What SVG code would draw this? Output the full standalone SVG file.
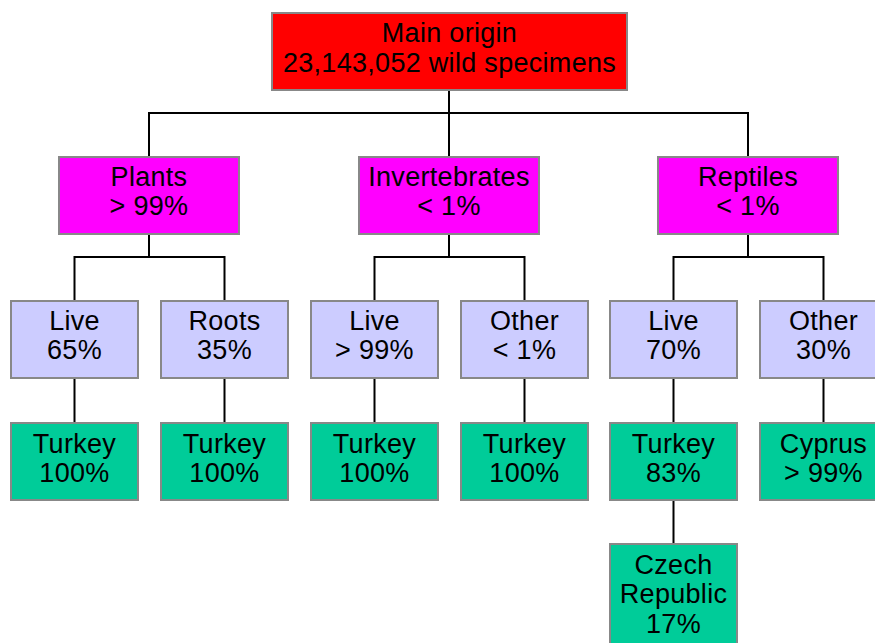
<svg xmlns="http://www.w3.org/2000/svg" width="875" height="643" viewBox="0 0 875 643">
<style>
.box{stroke:#888888;stroke-width:2}
.r{fill:#FF0000}
.m{fill:#FF00FF}
.l{fill:#CCCCFF}
.g{fill:#00CC99}
text{font-family:"Liberation Sans",Arial,sans-serif;font-size:27px;letter-spacing:0.3px;fill:#000;text-anchor:middle}
.c{stroke:#000;stroke-width:2;fill:none}
</style>
<rect width="875" height="643" fill="#fff"/>
<g id="connectors">
<path class="c" d="M449,90V113M149,157V113H748V157M449,113V157"/>
<path class="c" d="M149,234V257M74.5,301V257H224.5V301"/>
<path class="c" d="M449,234V257M374.5,301V257H524.5V301"/>
<path class="c" d="M748,234V257M673.5,301V257H823.5V301"/>
<path class="c" d="M74.5,378V423M224.5,378V423M374.5,378V423M524.5,378V423M673.5,378V423M823.5,378V423M673.5,499V544"/>
</g>
<g id="root"><rect class="box r" x="272" y="13" width="355" height="77"/><text x="449.5" y="42">Main origin</text><text x="449.5" y="71.5">23,143,052 wild specimens</text></g>
<g id="plants"><rect class="box m" x="59" y="157" width="180" height="77"/><text x="149" y="186">Plants</text><text x="149" y="214.5">&gt; 99%</text></g>
<g id="invertebrates"><rect class="box m" x="359" y="157" width="180" height="77"/><text x="449" y="186">Invertebrates</text><text x="449" y="214.5">&lt; 1%</text></g>
<g id="reptiles"><rect class="box m" x="658" y="157" width="180" height="77"/><text x="748" y="186">Reptiles</text><text x="748" y="214.5">&lt; 1%</text></g>
<g id="plants-live"><rect class="box l" x="11" y="301" width="127" height="77"/><text x="74.5" y="329.5">Live</text><text x="74.5" y="358.5">65%</text></g>
<g id="plants-roots"><rect class="box l" x="161" y="301" width="127" height="77"/><text x="224.5" y="329.5">Roots</text><text x="224.5" y="358.5">35%</text></g>
<g id="inv-live"><rect class="box l" x="311" y="301" width="127" height="77"/><text x="374.5" y="329.5">Live</text><text x="374.5" y="358.5">&gt; 99%</text></g>
<g id="inv-other"><rect class="box l" x="461" y="301" width="127" height="77"/><text x="524.5" y="329.5">Other</text><text x="524.5" y="358.5">&lt; 1%</text></g>
<g id="rep-live"><rect class="box l" x="610" y="301" width="127" height="77"/><text x="673.5" y="329.5">Live</text><text x="673.5" y="358.5">70%</text></g>
<g id="rep-other"><rect class="box l" x="760" y="301" width="127" height="77"/><text x="823.5" y="329.5">Other</text><text x="823.5" y="358.5">30%</text></g>
<g id="plants-live-turkey"><rect class="box g" x="11" y="423" width="127" height="77"/><text x="74.5" y="452.5">Turkey</text><text x="74.5" y="481.5">100%</text></g>
<g id="plants-roots-turkey"><rect class="box g" x="161" y="423" width="127" height="77"/><text x="224.5" y="452.5">Turkey</text><text x="224.5" y="481.5">100%</text></g>
<g id="inv-live-turkey"><rect class="box g" x="311" y="423" width="127" height="77"/><text x="374.5" y="452.5">Turkey</text><text x="374.5" y="481.5">100%</text></g>
<g id="inv-other-turkey"><rect class="box g" x="461" y="423" width="127" height="77"/><text x="524.5" y="452.5">Turkey</text><text x="524.5" y="481.5">100%</text></g>
<g id="rep-live-turkey"><rect class="box g" x="610" y="423" width="127" height="77"/><text x="673.5" y="452.5">Turkey</text><text x="673.5" y="481.5">83%</text></g>
<g id="rep-other-cyprus"><rect class="box g" x="760" y="423" width="127" height="77"/><text x="823.5" y="452.5">Cyprus</text><text x="823.5" y="481.5">&gt; 99%</text></g>
<g id="rep-live-czech"><rect class="box g" x="610" y="544" width="127" height="110"/><text x="673.5" y="573.5">Czech</text><text x="673.5" y="603">Republic</text><text x="673.5" y="632.5">17%</text></g>
</svg>
